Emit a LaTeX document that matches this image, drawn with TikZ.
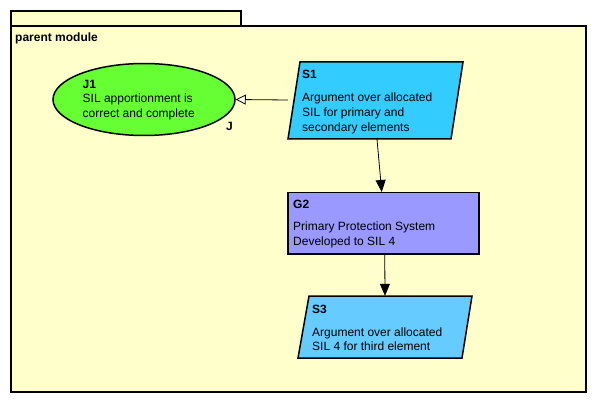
\documentclass[tikz,border=0pt]{standalone}
\usepackage{fontspec}
\setmainfont{Liberation Sans}
\usetikzlibrary{shapes.geometric,arrows.meta}
\definecolor{bg}{HTML}{FFFFCC}
\definecolor{jgreen}{HTML}{66FF33}
\definecolor{sonecol}{HTML}{33CCFF}
\definecolor{gtwocol}{HTML}{9999FF}
\definecolor{sthreecol}{HTML}{66CCFF}
\begin{document}
\begin{tikzpicture}[x=1pt,y=-1pt,
  txt/.style={anchor=base west, inner sep=0pt, font=\fontsize{12}{14}\selectfont},
  lbl/.style={anchor=base west, inner sep=0pt, font=\fontsize{12}{14}\selectfont\bfseries},
  conn/.style={draw=black, line width=0.8pt},
  frame/.style={draw=black, line width=2pt, fill=bg, inner sep=0pt, anchor=north west},
  hold/.style={inner sep=0pt},
  shapeline/.style={draw=black, line width=1.5pt}]
\useasboundingbox (0,0) rectangle (595,401);
\fill[white] (0,0) rectangle (595,401);
% module frame
\node[frame, minimum width=230pt, minimum height=15pt] (tab) at (10,10) {};
\node[frame, minimum width=575pt, minimum height=366pt] (module) at (10,25) {};
\node[lbl] (modlabel) at (15,42) {parent module};
% J1
\node[ellipse, shapeline, fill=jgreen, minimum width=182pt, minimum height=72pt, inner sep=0pt] (j1) at (144,99.5) {};
\node[lbl] (j1id) at (82.5,89) {J1};
\node[txt] (j1a) at (82.5,103) {SIL apportionment is};
\node[txt] (j1b) at (82.5,118) {correct and complete};
\node[lbl] (j1tag) at (226,131) {J};
% S1
\node[hold, minimum width=175pt, minimum height=77pt] (s1) at (375.5,100.5) {};
\filldraw[shapeline, fill=sonecol] (300,62) -- (463,62) -- (451,139) -- (288,139) -- cycle;
\node[lbl] (s1id) at (302,79) {S1};
\node[txt] (s1a) at (302,102) {Argument over allocated};
\node[txt] (s1b) at (302,117) {SIL for primary and};
\node[txt] (s1c) at (302,132) {secondary elements};
% G2
\node[draw=black, line width=1.5pt, fill=gtwocol, inner sep=0pt, anchor=north west, minimum width=191pt, minimum height=61pt] (g2) at (287,192) {};
\node[lbl] (g2id) at (293,209) {G2};
\node[txt] (g2a) at (293,231) {Primary Protection System};
\node[txt] (g2b) at (293,246) {Developed to SIL 4};
% S3
\node[hold, minimum width=174pt, minimum height=62pt] (s3) at (385,327) {};
\filldraw[shapeline, fill=sthreecol] (309,296) -- (472,296) -- (462,358) -- (298,358) -- cycle;
\node[lbl] (s3id) at (312,313) {S3};
\node[txt] (s3a) at (312,336) {Argument over allocated};
\node[txt] (s3b) at (312,350) {SIL 4 for third element};
% connectors
\draw[conn, -{Triangle[length=10pt,width=10pt,fill=white]}] ([yshift=0.5pt]s1.west) -- (j1.east);
\draw[conn, -{Triangle[length=12pt,width=10pt]}] ([xshift=1.5pt]s1.south) -- ([xshift=-1.5pt]g2.north);
\draw[conn, -{Triangle[length=12pt,width=10pt]}] ([xshift=1.5pt]g2.south) -- (s3.north);
\end{tikzpicture}
\end{document}
